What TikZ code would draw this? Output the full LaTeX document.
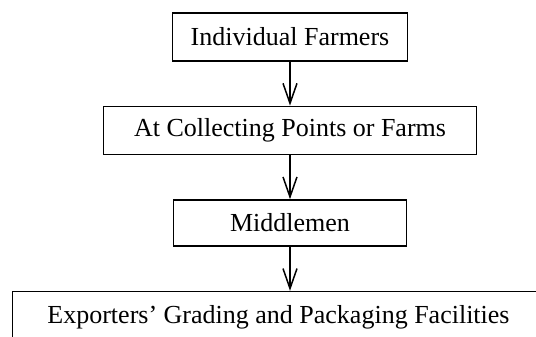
\documentclass[tikz,border=0pt]{standalone}
\usepackage{fontspec}
\setmainfont{Liberation Serif}
\usepackage{tikz}
\usetikzlibrary{
  arrows.meta,
  positioning}
\tikzset{every picture/.style={font issue=\fontsize{13pt}{15pt}},
         font issue/.style={execute at begin picture={#1\selectfont}}
        }

\begin{document}
\begin{tikzpicture}[node distance = 22pt,
  stage/.style={draw, line width=0.8pt, inner sep=0pt},
  flow/.style={-{Straight Barb[length=10pt,width=7pt]}, line width=0.75pt}]
\useasboundingbox (0,0) rectangle (268pt,-168.5pt);
\coordinate (top) at (145pt,-6pt);
\node[stage, below = 0pt of top, minimum width=117.5pt, minimum height=24pt](farmers){Individual Farmers};
\node[stage, below = of farmers, minimum width=186.5pt, minimum height=24pt](points){At Collecting Points or Farms};
\node[stage, below = of points, minimum width=116.5pt, minimum height=23pt](middlemen){Middlemen};
%exporters box runs off the page
\node[stage, below = of middlemen, xshift=-5.75pt, minimum width=266pt, minimum height=26pt](exporters){Exporters’ Grading and Packaging Facilities};

%lines
\draw[flow] (farmers) -- (points);
\draw[flow] (points) -- (middlemen);
\draw[flow] (middlemen.south) -- (middlemen.south |- exporters.north);
\end{tikzpicture}
\end{document}
